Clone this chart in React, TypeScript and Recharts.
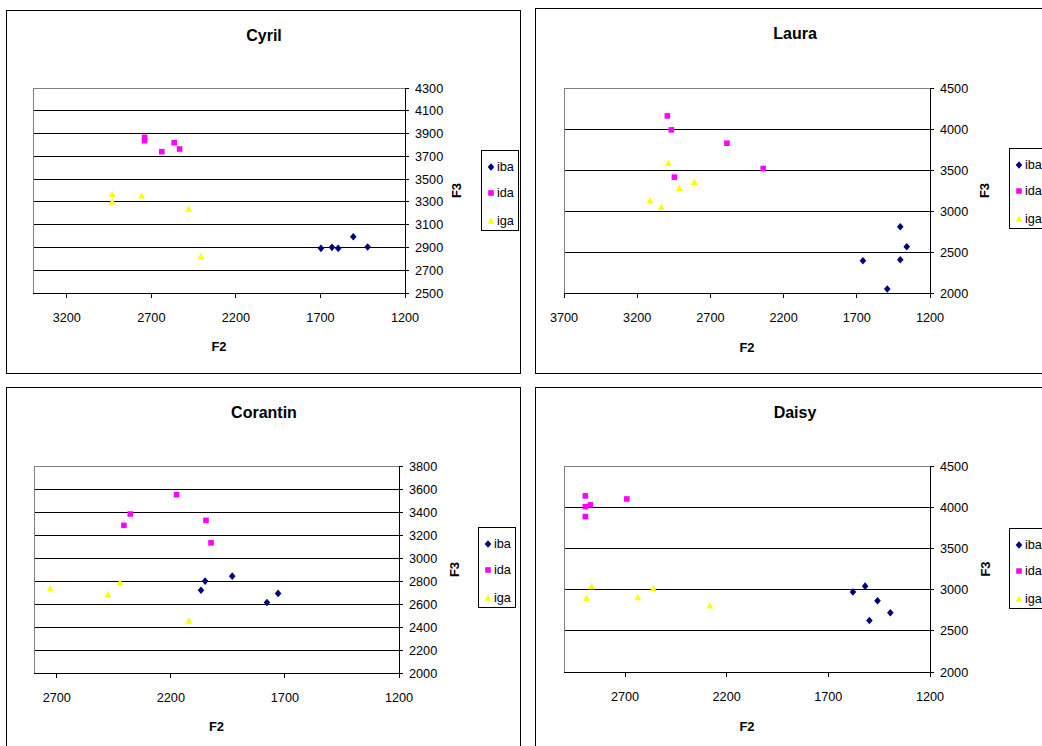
import React from "react"
import { ScatterChart, Scatter, XAxis, YAxis, CartesianGrid, ReferenceLine } from "recharts"

type Pair = [number, number] // [F2, F3]

const seriesNames = ["iba", "ida", "iga"]
const seriesColors = ["#000080", "#FF00FF", "#FFFF00"]
const seriesShapes = ["diamond", "square", "triangle"]

// Cyril
const cyrilIba: Pair[] = [[1697, 2892], [1632, 2901], [1595, 2892], [1506, 2994], [1421, 2904]]
const cyrilIda: Pair[] = [[2740, 3867], [2740, 3837], [2638, 3741], [2565, 3820], [2533, 3764]]
const cyrilIga: Pair[] = [[2932, 3367], [2932, 3302], [2758, 3352], [2480, 3238], [2407, 2819]]
const cyrilF2Ticks = [3200, 2700, 2200, 1700, 1200]
const cyrilF3Ticks = [2500, 2700, 2900, 3100, 3300, 3500, 3700, 3900, 4100, 4300]

// Laura
const lauraIba: Pair[] = [[1403, 2808], [1359, 2564], [1403, 2406], [1658, 2393], [1492, 2049]]
const lauraIda: Pair[] = [[2994, 4160], [2967, 3989], [2587, 3827], [2339, 3518], [2946, 3413]]
const lauraIga: Pair[] = [[2987, 3583], [2912, 3279], [2810, 3352], [3112, 3128], [3035, 3047]]
const lauraF2Ticks = [3700, 3200, 2700, 2200, 1700, 1200]
const lauraF3Ticks = [2000, 2500, 3000, 3500, 4000, 4500]

// Corantin
const corantinIba: Pair[] = [[2068, 2720], [2050, 2799], [1931, 2842], [1779, 2613], [1730, 2692]]
const corantinIda: Pair[] = [[2175, 3550], [2378, 3382], [2406, 3284], [2046, 3327], [2024, 3132]]
const corantinIga: Pair[] = [[2729, 2735], [2476, 2683], [2423, 2787], [2121, 2453]]
const corantinF2Ticks = [2700, 2200, 1700, 1200]
const corantinF3Ticks = [2000, 2200, 2400, 2600, 2800, 3000, 3200, 3400, 3600, 3800]

// Daisy
const daisyIba: Pair[] = [[1579, 2970], [1519, 3042], [1458, 2864], [1498, 2625], [1395, 2719]]
const daisyIda: Pair[] = [[2895, 4137], [2895, 4007], [2870, 4028], [2895, 3886], [2691, 4100]]
const daisyIga: Pair[] = [[2890, 2897], [2865, 3037], [2637, 2904], [2561, 3013], [2283, 2804]]
const daisyF2Ticks = [2700, 2200, 1700, 1200]
const daisyF3Ticks = [2000, 2500, 3000, 3500, 4000, 4500]

const FONT = '"Liberation Sans", Arial, sans-serif'
const XH = 40
const YW = 45

const toPoints = (pairs: Pair[]) => pairs.map(([f2, f3]) => ({ f2, f3 }))

function markerPath(kind: string, cx: number, cy: number) {
  if (kind === "diamond") return `M${cx},${cy - 3.8}L${cx + 3.3},${cy}L${cx},${cy + 3.8}L${cx - 3.3},${cy}Z`
  if (kind === "square") return `M${cx - 2.8},${cy - 2.8}h5.6v5.6h-5.6Z`
  return `M${cx},${cy - 3.6}L${cx + 3.4},${cy + 2.8}L${cx - 3.4},${cy + 2.8}Z`
}

interface PanelCfg {
  name: string
  area: number[] // chart left, top, width, height
  frame: number[] // border left, top, right, bottom
  plot: number[] // plot left, top, right, bottom
  titleAt: number[]
  f2LabelY: number
  f3LabelX: number
  legendAt: number[]
  series: Pair[][]
  f2Domain: number[]
  f2Ticks: number[]
  f3Domain: number[]
  f3Ticks: number[]
}

const panels: PanelCfg[] = [
  {
    name: "Cyril", area: [0, 0, 530, 380], frame: [6, 10, 521, 374], plot: [33, 88, 405, 293],
    titleAt: [264, 36], f2LabelY: 346.5, f3LabelX: 456.5, legendAt: [481, 150],
    series: [cyrilIba, cyrilIda, cyrilIga], f2Domain: [1200, 3400], f2Ticks: cyrilF2Ticks,
    f3Domain: [2500, 4300], f3Ticks: cyrilF3Ticks,
  },
  {
    name: "Laura", area: [530, 0, 512, 380], frame: [535, 8, 1100, 374], plot: [564, 88, 930, 293],
    titleAt: [795, 34], f2LabelY: 347.5, f3LabelX: 984, legendAt: [1009, 148],
    series: [lauraIba, lauraIda, lauraIga], f2Domain: [1200, 3700], f2Ticks: lauraF2Ticks,
    f3Domain: [2000, 4500], f3Ticks: lauraF3Ticks,
  },
  {
    name: "Corantin", area: [0, 380, 530, 366], frame: [6, 387, 521, 800], plot: [34, 466, 399, 673],
    titleAt: [264, 413], f2LabelY: 726.5, f3LabelX: 454.5, legendAt: [478, 527],
    series: [corantinIba, corantinIda, corantinIga], f2Domain: [1200, 2800], f2Ticks: corantinF2Ticks,
    f3Domain: [2000, 3800], f3Ticks: corantinF3Ticks,
  },
  {
    name: "Daisy", area: [530, 380, 512, 366], frame: [535, 387, 1100, 800], plot: [564, 466, 930, 672],
    titleAt: [795, 413], f2LabelY: 726.5, f3LabelX: 985, legendAt: [1009, 528],
    series: [daisyIba, daisyIda, daisyIga], f2Domain: [1200, 3000], f2Ticks: daisyF2Ticks,
    f3Domain: [2000, 4500], f3Ticks: daisyF3Ticks,
  },
]

const tickStyle = { fontSize: 12.7, fill: "#000", fontFamily: FONT }

function Panel({ cfg }: { cfg: PanelCfg }) {
  const [ax, ay, aw, ah] = cfg.area
  const [pl, pt, pr, pb] = cfg.plot
  const [fl, ft, fr, fb] = cfg.frame
  const margin = {
    top: pt - ay,
    left: pl - ax,
    right: aw - (pr - ax) - YW,
    bottom: ah - (pb - ay) - XH,
  }
  const f2Offset = cfg.f2LabelY - 4.6 - pb - XH
  const f3Offset = cfg.f3LabelX - pr - YW
  const rows = [15.5, 42, 69.5]

  return (
    <>
      <div
        style={{
          position: "absolute", left: fl, top: ft, width: fr - fl, height: fb - ft,
          border: "1px solid #000", boxSizing: "border-box", background: "#fff",
        }}
      />
      <div
        style={{
          position: "absolute", left: cfg.titleAt[0] - 100, top: cfg.titleAt[1] - 10, width: 200,
          lineHeight: "20px", textAlign: "center", fontFamily: FONT, fontWeight: "bold", fontSize: 16,
        }}
      >
        {cfg.name}
      </div>
      <div style={{ position: "absolute", left: ax, top: ay }}>
        <ScatterChart width={aw} height={ah} margin={margin}>
          <CartesianGrid vertical={false} stroke="#000" strokeWidth={1} fill="#fff" />
          <XAxis
            type="number"
            dataKey="f2"
            domain={cfg.f2Domain}
            ticks={cfg.f2Ticks}
            reversed
            interval={0}
            height={XH}
            tick={tickStyle}
            tickSize={5}
            tickMargin={15}
            axisLine={{ stroke: "#000" }}
            tickLine={{ stroke: "#000" }}
            label={{
              value: "F2", position: "bottom", offset: f2Offset,
              style: { fontFamily: FONT, fontWeight: "bold", fontSize: 13, fill: "#000" },
            }}
          />
          <YAxis
            type="number"
            dataKey="f3"
            orientation="right"
            domain={cfg.f3Domain}
            ticks={cfg.f3Ticks}
            interval={0}
            width={YW}
            tick={tickStyle}
            tickSize={4}
            tickMargin={6}
            axisLine={{ stroke: "#000" }}
            tickLine={{ stroke: "#000" }}
            label={{
              value: "F3", angle: -90, position: "right", offset: f3Offset,
              style: { fontFamily: FONT, fontWeight: "bold", fontSize: 13, fill: "#000", textAnchor: "middle" },
            }}
          />
          <ReferenceLine y={cfg.f3Domain[1]} stroke="#808080" />
          <ReferenceLine x={cfg.f2Domain[1]} stroke="#808080" />
          {cfg.series.map((pairs, i) => (
            <Scatter
              key={seriesNames[i]}
              name={seriesNames[i]}
              data={toPoints(pairs)}
              isAnimationActive={false}
              shape={(p: any) => <path d={markerPath(seriesShapes[i], p.cx, p.cy)} fill={seriesColors[i]} />}
            />
          ))}
        </ScatterChart>
      </div>
      <div
        style={{
          position: "absolute", left: cfg.legendAt[0], top: cfg.legendAt[1], width: 38, height: 81,
          border: "1px solid #000", boxSizing: "border-box", background: "#fff",
        }}
      >
        {seriesNames.map((s, i) => (
          <React.Fragment key={s}>
            <svg style={{ position: "absolute", left: 4, top: rows[i] - 6 }} width={12} height={12}>
              <path d={markerPath(seriesShapes[i], 5, 6)} fill={seriesColors[i]} />
            </svg>
            <span
              style={{
                position: "absolute", left: 15, top: rows[i] - 9, lineHeight: "18px",
                fontFamily: FONT, fontSize: 12.7, color: "#000",
              }}
            >
              {s}
            </span>
          </React.Fragment>
        ))}
      </div>
    </>
  )
}

export default function App() {
  return (
    <div
      style={{
        position: "absolute", left: 0, top: 0, width: 1042, height: 746,
        overflow: "hidden", background: "#fff",
      }}
    >
      <style>{"svg line{shape-rendering:crispEdges}"}</style>
      {panels.map((cfg) => (
        <Panel key={cfg.name} cfg={cfg} />
      ))}
    </div>
  )
}
